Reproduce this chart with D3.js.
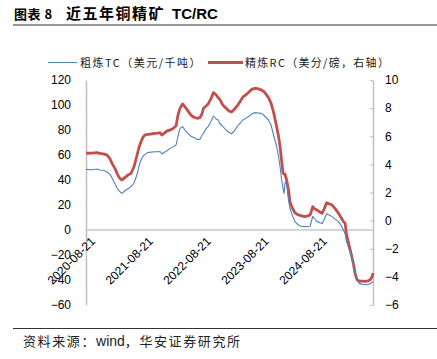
<!DOCTYPE html>
<html><head><meta charset="utf-8">
<script src="https://cdn.jsdelivr.net/npm/d3@7/dist/d3.min.js"></script>
<style>body{margin:0;background:#fff;} svg{display:block;}</style>
</head><body><svg id="c" width="437" height="359"></svg>
<script>
const dates = ["2020-08-21","2020-09-28","2020-10-29","2020-11-17","2020-12-06","2020-12-31","2021-01-19","2021-02-01","2021-02-20","2021-03-05","2021-03-17","2021-03-30","2021-04-05","2021-04-18","2021-04-30","2021-05-13","2021-06-01","2021-06-20","2021-07-02","2021-07-12","2021-07-21","2021-08-03","2021-08-16","2021-08-28","2021-09-16","2021-10-05","2021-10-30","2021-11-18","2021-12-01","2021-12-13","2021-12-26","2022-01-14","2022-02-02","2022-02-21","2022-03-12","2022-03-24","2022-04-06","2022-04-22","2022-05-07","2022-05-26","2022-06-14","2022-07-03","2022-07-22","2022-08-10","2022-08-23","2022-09-01","2022-09-17","2022-09-30","2022-10-19","2022-11-03","2022-11-19","2022-12-02","2022-12-14","2023-01-02","2023-01-21","2023-02-09","2023-02-25","2023-03-13","2023-04-01","2023-04-19","2023-05-08","2023-05-27","2023-06-15","2023-07-04","2023-07-23","2023-08-11","2023-08-30","2023-09-15","2023-09-30","2023-10-16","2023-11-01","2023-11-17","2023-12-06","2023-12-18","2023-12-28","2024-01-06","2024-01-16","2024-01-22","2024-01-28","2024-02-07","2024-02-19","2024-02-29","2024-03-12","2024-03-31","2024-04-19","2024-05-08","2024-05-27","2024-06-15","2024-07-04","2024-07-13","2024-07-21","2024-08-01","2024-08-17","2024-09-05","2024-09-18","2024-09-30","2024-10-16","2024-11-01","2024-11-20","2024-12-09","2024-12-31","2025-01-16","2025-01-31","2025-02-10","2025-02-19","2025-03-04","2025-03-23","2025-04-04","2025-04-14","2025-04-26","2025-05-09","2025-05-28","2025-06-16","2025-07-05","2025-07-17","2025-07-30","2025-08-05"];
const tcValues = [48.5,48.2,48.8,48.0,47.8,46.6,44.5,41.6,37,33.6,31.5,29.8,29.3,30.8,32,33,34.7,37.6,42,45.6,51,56,59,60.5,62,62.3,62.6,62.6,62.8,60.8,62,63.4,65.3,66.5,68,75,81.3,82.7,80,77.3,75,74,72.5,72.5,76,77.3,81,82.7,87,91.2,89,88,85,82.7,80,78,77,79,82.7,85.3,88,89.5,91,93,93.9,93.6,93.3,92,90,88,84,76,67,59,50.7,41,33,29.3,38,37.3,24,17,12.5,6.7,4.2,3,2.7,2.8,3,7,11,9,6.7,5.8,5.3,8,13,12,10.7,8.7,6.7,3.5,0,-3,-9.3,-14,-21.3,-27,-34.7,-40,-42.5,-43.5,-43.8,-43.5,-43,-42,-41];
const rcValues = [4.79,4.80,4.83,4.78,4.75,4.67,4.40,4.07,3.70,3.36,3.10,2.92,2.89,3.02,3.12,3.25,3.36,3.83,4.35,4.79,5.2,5.61,5.95,6.09,6.14,6.16,6.20,6.22,6.25,6.09,6.2,6.38,6.44,6.55,6.75,7.5,8.0,8.29,8.1,7.8,7.5,7.35,7.28,7.32,7.6,7.99,8.15,8.29,8.7,9.1,8.95,8.75,8.6,8.2,8.0,7.8,7.72,7.9,8.15,8.46,8.8,8.95,9.15,9.35,9.41,9.38,9.30,9.2,9.0,8.75,8.35,7.7,6.7,6.0,5.26,4.3,3.4,3.3,3.3,2.89,2.2,1.3,0.95,0.55,0.42,0.35,0.28,0.32,0.40,0.7,0.99,0.85,0.75,0.6,0.52,0.8,1.27,1.2,1.11,0.85,0.52,0.2,-0.08,-0.17,-1.0,-1.6,-2.5,-3.1,-3.75,-4.2,-4.3,-4.3,-4.32,-4.28,-4.22,-4.0,-3.73];
const xTickLabels = ["2020-08-21","2021-08-21","2022-08-21","2023-08-21","2024-08-21"];
const leftTicks = [120,100,80,60,40,20,0,-20,-40,-60];
const rightTicks = [10,8,6,4,2,0,-2,-4,-6];
const seriesNames = ["粗炼TC（美元/千吨）","精炼RC（美分/磅，右轴）"];

const parse = d3.timeParse("%Y-%m-%d");
const svg = d3.select("#c");
const X0 = 86, X1 = 373, Y0 = 80, Y1 = 305;
const x = d3.scaleTime().domain([parse(dates[0]), parse(dates[dates.length-1])]).range([X0, X1]);
const yL = d3.scaleLinear().domain([-60,120]).range([Y1, Y0]);
const yR = d3.scaleLinear().domain([-6,10]).range([Y1, Y0]);
const num = "'Liberation Sans', Arial, sans-serif";
const cjk = "'Noto Sans CJK SC', sans-serif";

// title
const t = svg.append("text").attr("y", 19).attr("font-weight", "bold").attr("fill", "#000");
t.append("tspan").attr("x", 14).attr("font-family", cjk).attr("font-size", 13).attr("letter-spacing", 0.5).text("图表 8");
t.append("tspan").attr("x", 66).attr("font-family", cjk).attr("font-size", 15).attr("letter-spacing", 1.5).text("近五年铜精矿");
t.append("tspan").attr("x", 172).attr("font-family", num).attr("font-size", 15).text("TC/RC");
svg.append("line").attr("x1", 13).attr("x2", 437).attr("y1", 25).attr("y2", 25).attr("stroke", "#333").attr("stroke-width", 1);

// legend
svg.append("line").attr("x1", 48).attr("x2", 77).attr("y1", 62.5).attr("y2", 62.5).attr("stroke", "#4f81bd").attr("stroke-width", 1);
svg.append("text").attr("x", 80).attr("y", 66.5).attr("font-family", cjk).attr("font-size", 11).attr("letter-spacing", 1.5).attr("fill", "#222").text(seriesNames[0]);
svg.append("line").attr("x1", 208).attr("x2", 243).attr("y1", 62.5).attr("y2", 62.5).attr("stroke", "#c0504d").attr("stroke-width", 3);
svg.append("text").attr("x", 245).attr("y", 66.5).attr("font-family", cjk).attr("font-size", 11).attr("letter-spacing", 1.3).attr("fill", "#222").text(seriesNames[1]);

// left axis
const gL = svg.append("g").attr("transform", `translate(${X0},0)`)
  .call(d3.axisLeft(yL).tickValues(leftTicks).tickSize(0).tickPadding(15));
gL.select(".domain").attr("stroke", "#bfbfbf").attr("stroke-width", 1.5);
gL.selectAll("text").attr("font-family", num).attr("font-size", 12).attr("fill", "#000");

// right axis
const gR = svg.append("g").attr("transform", `translate(${X1},0)`)
  .call(d3.axisRight(yR).tickValues(rightTicks).tickSizeInner(-3).tickSizeOuter(0).tickPadding(12));
gR.select(".domain").attr("stroke", "#bfbfbf").attr("stroke-width", 1.5);
gR.selectAll("line").attr("stroke", "#bfbfbf");
gR.selectAll("text").attr("font-family", num).attr("font-size", 12).attr("fill", "#000");

// zero line
svg.append("line").attr("x1", X0).attr("x2", X1).attr("y1", yL(0)).attr("y2", yL(0)).attr("stroke", "#c8c8c8").attr("stroke-width", 1.5);

// x labels
svg.append("g").selectAll("text").data(xTickLabels).join("text")
  .attr("transform", d => `translate(${x(parse(d))+4},${yL(0)+6}) rotate(-45)`)
  .attr("text-anchor", "end").attr("dy", "0.7em")
  .attr("font-family", num).attr("font-size", 12).attr("fill", "#000").text(d => d);

// lines
const pts = dates.map((d, i) => ({d: parse(d), tc: tcValues[i], rc: rcValues[i]}));
svg.append("path").datum(pts).attr("fill", "none").attr("stroke", "#c0504d").attr("stroke-width", 2.8).attr("stroke-linejoin", "round")
  .attr("d", d3.line().x(p => x(p.d)).y(p => yR(p.rc)));
svg.append("path").datum(pts).attr("fill", "none").attr("stroke", "#4f81bd").attr("stroke-width", 1.1).attr("stroke-linejoin", "round")
  .attr("d", d3.line().x(p => x(p.d)).y(p => yL(p.tc)));

// footer
svg.append("line").attr("x1", 13).attr("x2", 437).attr("y1", 328.5).attr("y2", 328.5).attr("stroke", "#333").attr("stroke-width", 1);
const f = svg.append("text").attr("x", 23).attr("y", 346).attr("font-family", cjk).attr("font-size", 13).attr("fill", "#222");
f.append("tspan").attr("letter-spacing", 1.6).text("资料来源：");
f.append("tspan").attr("font-family", num).attr("font-size", 14).text("wind");
f.append("tspan").attr("letter-spacing", 1.6).text("，华安证券研究所");
</script></body></html>
